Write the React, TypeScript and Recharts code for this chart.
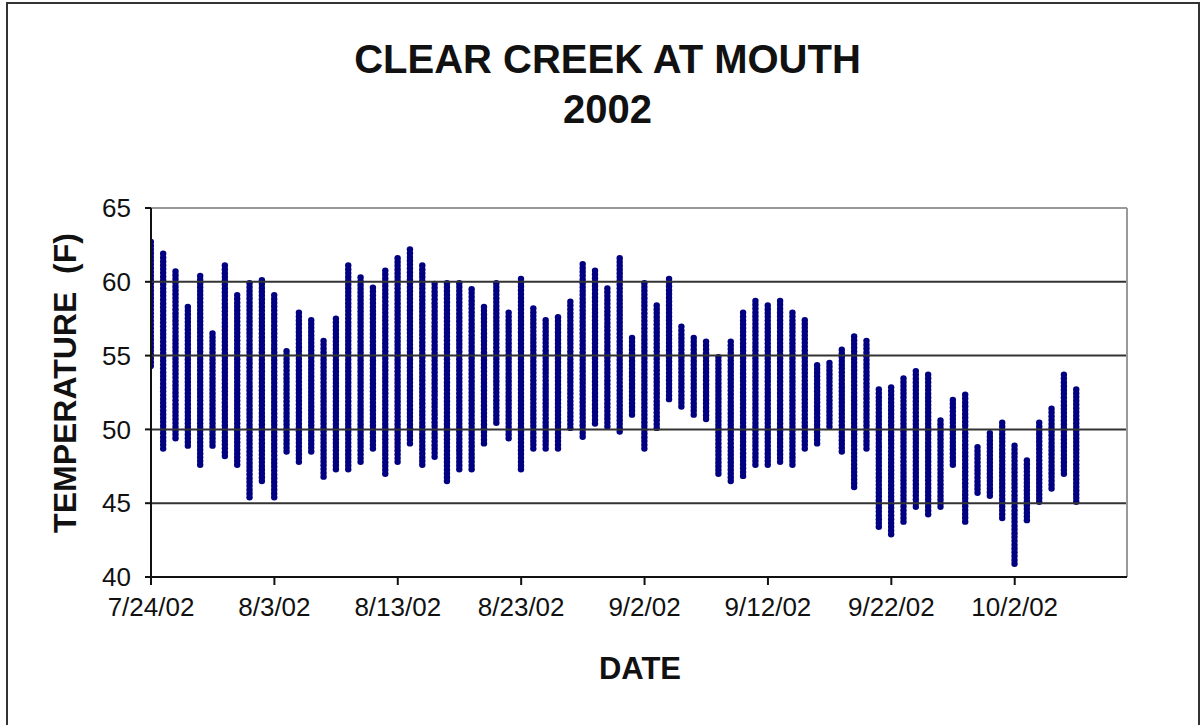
import React from 'react';
import { BarChart, Bar, XAxis, YAxis, ReferenceLine } from 'recharts';

// daily high / low water temperature (F), one entry per day from 7/24/02
const highs = [
  62.7, 61.9, 60.7, 58.3, 60.4, 56.5, 61.1, 59.1, 59.9, 60.1,
  59.1, 55.3, 57.9, 57.4, 56.0, 57.5, 61.1, 60.3, 59.6, 60.75,
  61.6, 62.2, 61.1, 59.85, 59.9, 59.9, 59.5, 58.3, 59.9, 57.9,
  60.2, 58.2, 57.4, 57.6, 58.65, 61.2, 60.75, 59.55, 61.6, 56.2,
  59.9, 58.4, 60.2, 56.95, 56.2, 55.95, 54.9, 55.95, 57.9, 58.7,
  58.4, 58.7, 57.9, 57.4, 54.35, 54.5, 55.4, 56.3, 56.0, 52.7,
  52.85, 53.45, 53.95, 53.7, 50.6, 52.0, 52.35, 48.8, 49.75, 50.45,
  48.9, 47.9, 50.45, 51.4, 53.7, 52.7,
];
const lows = [
  54.3, 48.7, 49.4, 48.9, 47.6, 48.9, 48.2, 47.6, 45.4, 46.5,
  45.4, 48.5, 47.8, 48.5, 46.8, 47.3, 47.3, 47.8, 48.7, 47.0,
  47.8, 49.05, 47.6, 48.15, 46.5, 47.3, 47.3, 49.05, 50.45, 49.4,
  47.3, 48.7, 48.7, 48.7, 50.1, 49.5, 50.4, 50.2, 49.85, 51.0,
  48.7, 50.1, 52.05, 51.55, 51.0, 50.7, 47.0, 46.5, 46.85, 47.6,
  47.6, 47.8, 47.6, 48.7, 49.05, 50.2, 48.5, 46.1, 48.7, 43.4,
  42.9, 43.75, 44.75, 44.25, 44.75, 47.6, 43.75, 45.7, 45.5, 44.0,
  40.9, 43.85, 45.1, 46.0, 47.0, 45.1,
];

const tickDays = [0, 10, 20, 30, 40, 50, 60, 70];
const tickLabels = ['7/24/02', '8/3/02', '8/13/02', '8/23/02', '9/2/02', '9/12/02', '9/22/02', '10/2/02'];
const yTicks = [40, 45, 50, 55, 60, 65];
const gridValues = [45, 50, 55, 60];

const data = highs.map((h, i) => ({ day: i, range: [lows[i], h] }));

const font = 'Arial, "Liberation Sans", sans-serif';

// stack of dots between the day's low and high
const DotColumn = (props: any) => {
  const { x, y, width, height } = props;
  const cx = x + width / 2;
  const n = Math.max(1, Math.round(height / 3.8));
  const dots = [];
  for (let i = 0; i <= n; i++) {
    dots.push(<circle key={i} cx={cx} cy={y + (i * height) / n} r={3.2} fill="#000080" />);
  }
  return <g>{dots}</g>;
};

const App: React.FC = () => {
  return (
    <div style={{ position: 'absolute', left: 0, top: 0, width: 1201, height: 725, background: '#fff', overflow: 'hidden', fontFamily: font }}>
      <div style={{ position: 'absolute', left: 6, top: 2, width: 1190, height: 740, border: '2px solid #333' }} />
      <div style={{ position: 'absolute', left: 0, width: 1215, top: 34, textAlign: 'center', fontSize: 40, fontWeight: 'bold', lineHeight: '50px', color: '#111' }}>
        CLEAR CREEK AT MOUTH<br />2002
      </div>
      <div style={{ position: 'absolute', left: 640, top: 651, transform: 'translateX(-50%)', fontSize: 31, fontWeight: 'bold', color: '#111' }}>
        DATE
      </div>
      <div style={{ position: 'absolute', left: 65, top: 383, transform: 'translate(-50%, -50%) rotate(-90deg)', whiteSpace: 'pre', fontSize: 32, fontWeight: 'bold', color: '#111' }}>
        {'TEMPERATURE  (F)'}
      </div>
      <div style={{ position: 'absolute', left: 0, top: 0 }}>
        <BarChart width={1201} height={725} data={data} margin={{ top: 208, right: 74, bottom: 118, left: 91 }} barSize={6}>
          <XAxis
            dataKey="day"
            type="number"
            domain={[0, 79.1]}
            ticks={tickDays}
            tickFormatter={(v: number) => tickLabels[tickDays.indexOf(v)] ?? ''}
            height={30}
            tickSize={8}
            tickMargin={13}
            stroke="#111"
            strokeWidth={2}
            tick={{ fill: '#111', fontSize: 26, fontFamily: font }}
            allowDataOverflow
          />
          <YAxis
            type="number"
            domain={[40, 65]}
            ticks={yTicks}
            width={60}
            tickSize={6}
            tickMargin={14}
            stroke="#111"
            strokeWidth={2}
            tick={{ fill: '#111', fontSize: 26, fontFamily: font }}
            interval={0}
          />
          {gridValues.map((v) => (
            <ReferenceLine key={v} y={v} stroke="#333" strokeWidth={2} />
          ))}
          <ReferenceLine y={65} stroke="#999" strokeWidth={2} />
          <ReferenceLine x={79.1} stroke="#999" strokeWidth={2} />
          <Bar dataKey="range" shape={DotColumn} isAnimationActive={false} />
        </BarChart>
      </div>
    </div>
  );
};

export default App;
